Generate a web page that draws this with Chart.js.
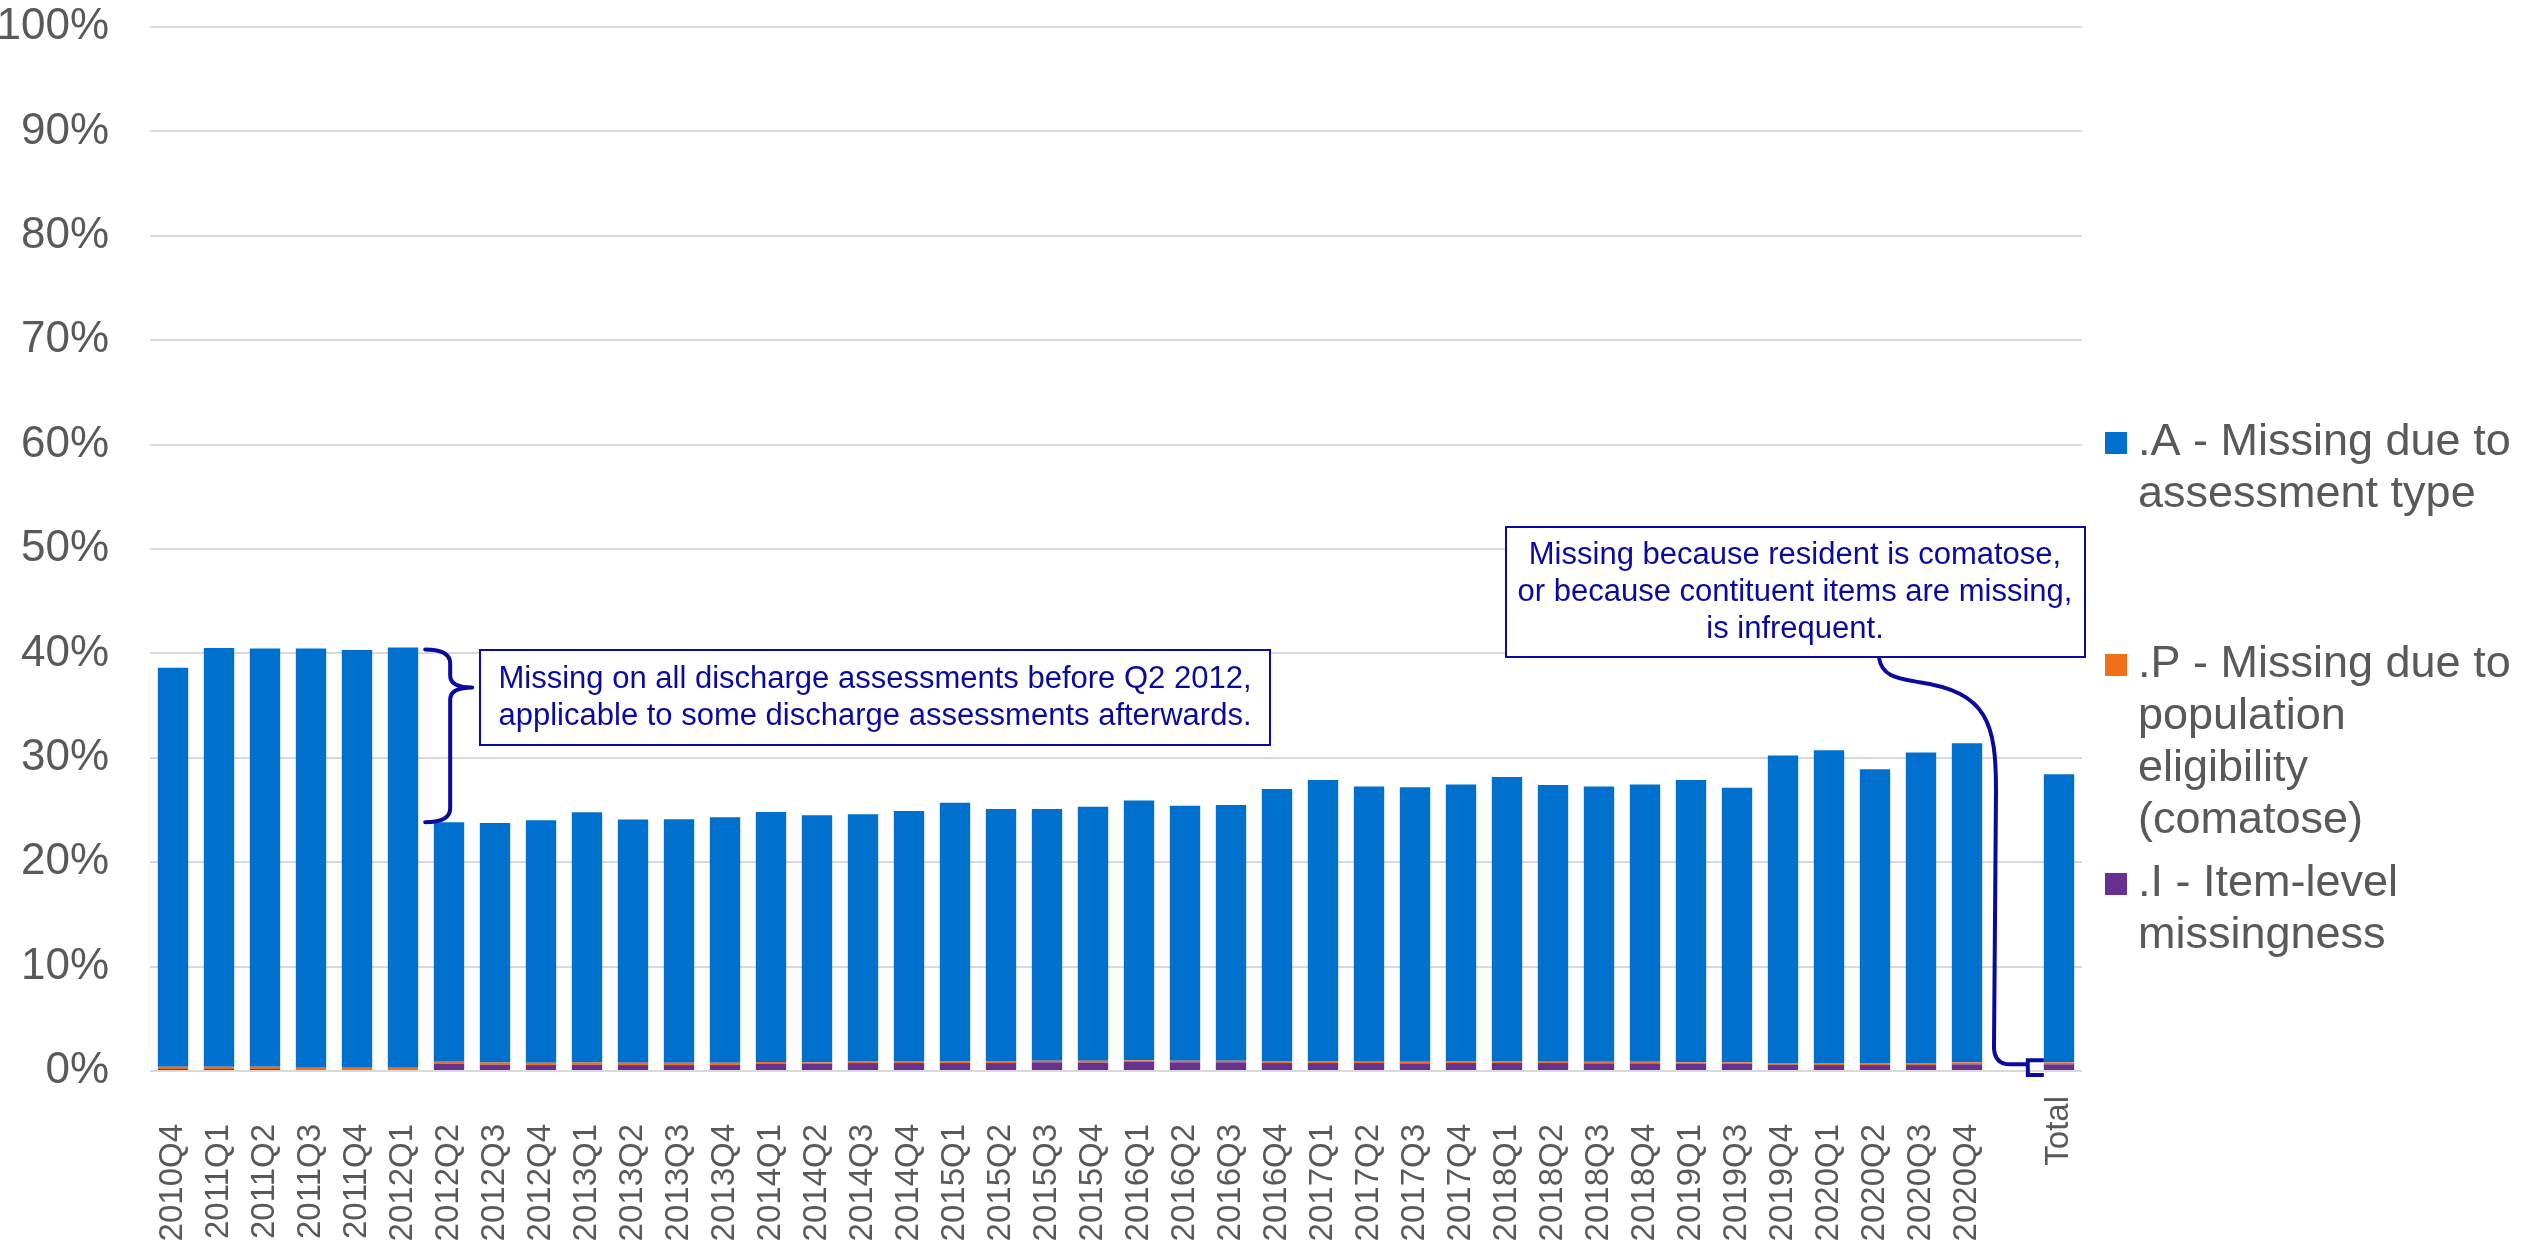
<!DOCTYPE html>
<html>
<head>
<meta charset="utf-8">
<script src="https://cdn.jsdelivr.net/npm/chart.js@4.4.1/dist/chart.umd.min.js"></script>
<style>
  html, body { margin: 0; padding: 0; background: #fff; }
  canvas { display: block; }
</style>
</head>
<body>
<canvas id="chart" width="2522" height="1253"></canvas>
<script>
// Quarters as printed under the bars (2019Q2 is absent in the source), blank slot, then Total.
const QUARTERS = [
  "2010Q4", "2011Q1", "2011Q2", "2011Q3", "2011Q4", "2012Q1", "2012Q2", "2012Q3", "2012Q4",
  "2013Q1", "2013Q2", "2013Q3", "2013Q4", "2014Q1", "2014Q2", "2014Q3", "2014Q4",
  "2015Q1", "2015Q2", "2015Q3", "2015Q4", "2016Q1", "2016Q2", "2016Q3", "2016Q4",
  "2017Q1", "2017Q2", "2017Q3", "2017Q4", "2018Q1", "2018Q2", "2018Q3", "2018Q4",
  "2019Q1", "2019Q3", "2019Q4", "2020Q1", "2020Q2", "2020Q3", "2020Q4", "", "Total",
];

// percent of assessments
const ITEM_LEVEL = [
  0.19, 0.19, 0.19, 0.13, 0.13, 0.13, 0.67, 0.60, 0.57,
  0.60, 0.57, 0.57, 0.57, 0.67, 0.67, 0.76, 0.76,
  0.76, 0.76, 0.83, 0.80, 0.86, 0.83, 0.83, 0.76,
  0.76, 0.76, 0.73, 0.76, 0.76, 0.76, 0.73, 0.73,
  0.67, 0.67, 0.60, 0.57, 0.57, 0.57, 0.64, null, 0.64,
];
const POPULATION = [
  0.22, 0.22, 0.22, 0.19, 0.19, 0.19, 0.22, 0.22, 0.22,
  0.22, 0.22, 0.22, 0.22, 0.19, 0.16, 0.19, 0.19,
  0.16, 0.19, 0.16, 0.19, 0.16, 0.16, 0.16, 0.16,
  0.16, 0.13, 0.16, 0.16, 0.16, 0.13, 0.16, 0.16,
  0.16, 0.16, 0.16, 0.16, 0.16, 0.16, 0.19, null, 0.19,
];
const ASSESSMENT_TYPE = [
  38.22, 40.10, 40.07, 40.16, 40.00, 40.25, 22.93, 22.94, 23.22,
  23.96, 23.29, 23.32, 23.51, 23.94, 23.67, 23.65, 23.95,
  24.78, 24.15, 24.11, 24.31, 24.88, 24.41, 24.50, 26.08,
  26.96, 26.36, 26.29, 26.52, 27.25, 26.51, 26.36, 26.55,
  27.05, 26.31, 29.46, 30.00, 28.17, 29.78, 30.56, null, 27.59,
];

const Y_MAX = 100;
const Y_STEP = 10;

const LEGEND_A = [".A - Missing due to", "assessment type"];
const LEGEND_P = [".P - Missing due to", "population", "eligibility", "(comatose)"];
const LEGEND_I = [".I - Item-level", "missingness"];

const NOTE_DISCHARGE = [
  "Missing on all discharge assessments before Q2 2012,",
  "applicable to some discharge assessments afterwards.",
];
const NOTE_COMATOSE = [
  "Missing because resident is comatose,",
  "or because contituent items are missing,",
  "is infrequent.",
];

const BLUE = "#0070CE";
const ORANGE = "#F0701A";
const PURPLE = "#66318F";
const GREY_TEXT = "#595959";
const GRID = "#D9D9D9";
const NAVY = "#0A0A9E";
const FONT = '"Liberation Sans", Arial, sans-serif';

function stackTop(i) {
  return (ITEM_LEVEL[i] || 0) + (POPULATION[i] || 0) + (ASSESSMENT_TYPE[i] || 0);
}

function drawBox(ctx, left, top, right, bottom, lines, midX, firstY, step) {
  ctx.fillStyle = "#fff";
  ctx.fillRect(left, top, right - left, bottom - top);
  ctx.strokeStyle = NAVY;
  ctx.lineWidth = 2;
  ctx.strokeRect(left, top, right - left, bottom - top);
  ctx.fillStyle = NAVY;
  ctx.font = "31px " + FONT;
  ctx.textAlign = "center";
  ctx.textBaseline = "middle";
  lines.forEach((t, k) => ctx.fillText(t, midX, firstY + k * step));
}

const overlay = {
  id: "overlay",
  afterDraw(chart) {
    const ctx = chart.ctx;
    const xs = chart.scales.x;
    const ys = chart.scales.y;
    const half = (xs.getPixelForValue(1) - xs.getPixelForValue(0)) * 0.66 / 2;

    // category labels, rotated
    ctx.save();
    ctx.fillStyle = GREY_TEXT;
    ctx.font = "33px " + FONT;
    ctx.textAlign = "right";
    ctx.textBaseline = "middle";
    QUARTERS.forEach((lab, i) => {
      if (!lab) return;
      const end = lab === "Total" ? ys.bottom + 25 : ys.bottom + 53;
      ctx.save();
      ctx.translate(xs.getPixelForValue(i), end);
      ctx.rotate(-Math.PI / 2);
      ctx.fillText(lab, 0, 0);
      ctx.restore();
    });
    ctx.restore();

    // legend on the right
    ctx.save();
    ctx.font = "45px " + FONT;
    ctx.textAlign = "left";
    ctx.textBaseline = "middle";
    const legend = [
      [BLUE, LEGEND_A, 443],
      [ORANGE, LEGEND_P, 665],
      [PURPLE, LEGEND_I, 884],
    ];
    legend.forEach(([col, lines, y0]) => {
      ctx.fillStyle = col;
      ctx.fillRect(2105, y0 - 11, 22, 22);
      ctx.fillStyle = GREY_TEXT;
      lines.forEach((t, k) => ctx.fillText(t, 2138, y0 + k * 52));
    });
    ctx.restore();

    // brace between 2012Q1 and 2012Q2
    ctx.save();
    ctx.strokeStyle = NAVY;
    ctx.lineWidth = 4;
    ctx.lineCap = "round";
    const bx = xs.getPixelForValue(5) + half + 7;
    const stem = bx + 25;
    const y1 = ys.getPixelForValue(stackTop(5)) + 2;
    const y2 = ys.getPixelForValue(stackTop(6));
    const tip = y1 + 0.22 * (y2 - y1);
    ctx.beginPath();
    ctx.moveTo(bx, y1);
    ctx.quadraticCurveTo(stem, y1, stem, y1 + 14);
    ctx.lineTo(stem, tip - 12);
    ctx.quadraticCurveTo(stem, tip, stem + 22, tip);
    ctx.moveTo(stem, tip + 12);
    ctx.quadraticCurveTo(stem, tip, stem + 22, tip);
    ctx.moveTo(stem, tip + 12);
    ctx.lineTo(stem, y2 - 14);
    ctx.quadraticCurveTo(stem, y2, bx, y2);
    ctx.stroke();
    ctx.restore();

    ctx.save();
    drawBox(ctx, 480, 650, 1270, 745, NOTE_DISCHARGE, 875, 679, 37);
    ctx.restore();

    // connector from the comatose note down to the Total stack
    const last = QUARTERS.length - 1;
    const barLeft = xs.getPixelForValue(last) - half;
    const bTop = ys.getPixelForValue(stackTop(last) - ASSESSMENT_TYPE[last]) - 2;
    const bBot = ys.getPixelForValue(0) + 4;
    const bMid = bTop + 4;
    ctx.save();
    ctx.strokeStyle = NAVY;
    ctx.lineWidth = 4;
    ctx.beginPath();
    ctx.moveTo(1879, 658);
    ctx.bezierCurveTo(1882, 676, 1896, 678, 1918, 682);
    ctx.bezierCurveTo(1988, 692, 1996, 724, 1996, 790);
    ctx.lineTo(1994, bMid - 16);
    ctx.quadraticCurveTo(1995, bMid, 2010, bMid);
    ctx.lineTo(barLeft - 16, bMid);
    ctx.stroke();
    ctx.beginPath();
    ctx.moveTo(barLeft, bTop);
    ctx.lineTo(barLeft - 16, bTop);
    ctx.lineTo(barLeft - 16, bBot);
    ctx.lineTo(barLeft, bBot);
    ctx.stroke();
    ctx.restore();

    ctx.save();
    drawBox(ctx, 1506, 527, 2085, 657, NOTE_COMATOSE, 1795, 555, 37);
    ctx.restore();
  },
};

const barCommon = { barPercentage: 0.66, categoryPercentage: 1.0, borderWidth: 0 };

new Chart(document.getElementById("chart"), {
  type: "bar",
  data: {
    labels: QUARTERS,
    datasets: [
      { label: LEGEND_I.join(" "), data: ITEM_LEVEL, backgroundColor: PURPLE, ...barCommon },
      { label: LEGEND_P.join(" "), data: POPULATION, backgroundColor: ORANGE, ...barCommon },
      { label: LEGEND_A.join(" "), data: ASSESSMENT_TYPE, backgroundColor: BLUE, ...barCommon },
    ],
  },
  options: {
    responsive: false,
    animation: false,
    devicePixelRatio: 1,
    layout: { padding: { top: 27, right: 440, left: 0, bottom: 0 } },
    plugins: { legend: { display: false }, tooltip: { enabled: false } },
    scales: {
      x: {
        stacked: true,
        grid: { display: false },
        border: { display: false },
        ticks: { display: false },
        afterFit: (s) => { s.height = 182; s.paddingLeft = 0; s.paddingRight = 0; },
      },
      y: {
        stacked: true,
        min: 0,
        max: Y_MAX,
        border: { display: false },
        grid: { color: GRID, lineWidth: 2, drawTicks: false },
        ticks: {
          stepSize: Y_STEP,
          padding: 41,
          color: GREY_TEXT,
          font: { size: 44, family: FONT },
          callback: (v) => v + "%",
        },
        afterFit: (s) => { s.width = 150; s.paddingTop = 0; s.paddingBottom = 0; },
      },
    },
  },
  plugins: [overlay],
});
</script>
</body>
</html>
